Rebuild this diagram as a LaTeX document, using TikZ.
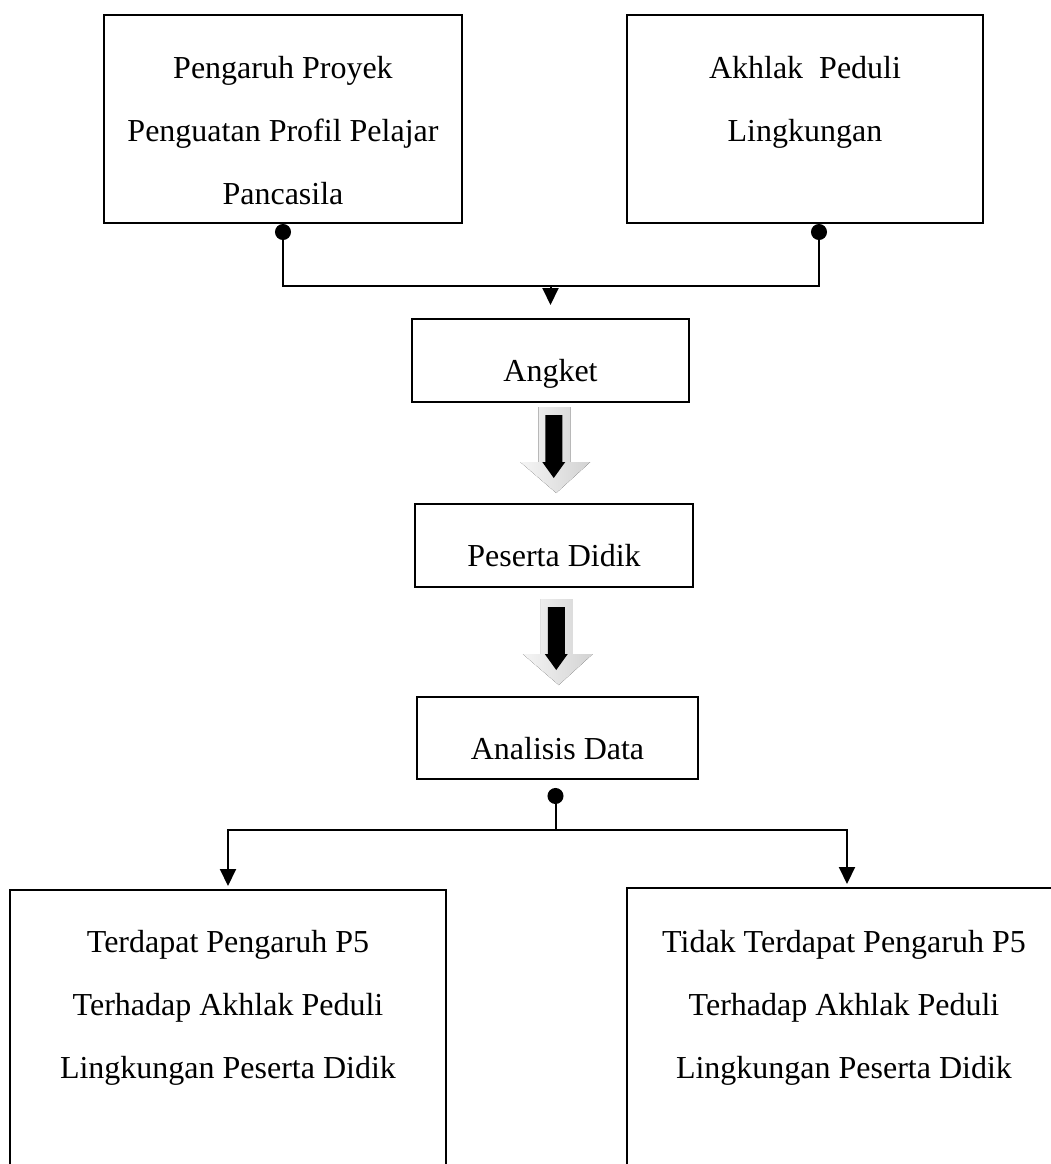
\documentclass[tikz,border=0pt]{standalone}
\usepackage{fontspec}
\setmainfont{Liberation Serif}
\usetikzlibrary{arrows.meta, calc}

\begin{document}
\begin{tikzpicture}[x=1pt, y=1pt,
    kotak/.style={draw, line width=2pt, inner sep=0pt},
    teks/.style={align=center, anchor=north, inner sep=0pt, font=\fontsize{32}{63}\selectfont},
    garis/.style={line width=2pt},
    bulat/.style={garis, {Circle[length=16pt]}-},
    panah/.style={garis, -{Triangle[length=17pt, width=16pt]}},
    blokpanah/.pic={
      \fill[left color=gray!8, right color=gray!35] (-17,43) -- (15,43) -- (15,-12) -- (35,-12)
        -- (1,-43) -- (-35,-12) -- (-17,-12) -- cycle;
      \fill[black] (-10,35) -- (7,35) -- (7,-12) -- (10,-12) -- (-1.5,-28) -- (-13,-12)
        -- (-10,-12) -- cycle;
    }]
  \useasboundingbox (0,0) rectangle (1051,-1164);
  \clip (0,0) rectangle (1051,-1164);
  % kotak atas
  \node[kotak, minimum width=358pt, minimum height=208pt] (pengaruh) at (283,-119) {};
  \node[kotak, minimum width=356pt, minimum height=208pt] (akhlak) at (805,-119) {};
  \node[teks] (tpengaruh) at ([yshift=-42pt]pengaruh.north) {Pengaruh Proyek\\Penguatan Profil Pelajar\\Pancasila};
  \node[teks] (takhlak) at ([yshift=-42pt]akhlak.north) {Akhlak\ \ Peduli\\Lingkungan};
  % alur tengah
  \node[kotak, minimum width=277pt, minimum height=83pt] (angket) at (550.5,-360.5) {};
  \node[kotak, minimum width=278pt, minimum height=83pt] (peserta) at (554,-545.5) {};
  \node[kotak, minimum width=281pt, minimum height=82pt] (analisis) at (557.5,-738) {};
  \node[teks] (tangket) at ([yshift=-41pt]angket.north) {Angket};
  \node[teks] (tpeserta) at ([yshift=-41pt]peserta.north) {Peserta Didik};
  \node[teks] (tanalisis) at ([yshift=-41pt]analisis.north) {Analisis Data};
  % kotak bawah
  \node[kotak, minimum width=436pt, minimum height=400pt] (terdapat) at (228,-1090) {};
  \node[kotak, minimum width=440pt, minimum height=400pt] (tidak) at (847,-1088) {};
  \node[teks] (tterdapat) at ([yshift=-41pt]terdapat.north) {Terdapat Pengaruh P5\\Terhadap Akhlak Peduli\\Lingkungan Peserta Didik};
  \node[teks] (ttidak) at ([shift={(-3pt,-43pt)}]tidak.north) {Tidak Terdapat Pengaruh P5\\Terhadap Akhlak Peduli\\Lingkungan Peserta Didik};

  \coordinate (gabung) at ($(angket.north)+(0,32)$);
  \draw[garis, {Circle[length=16pt]}-{Circle[length=16pt]}] (pengaruh.south) |- (gabung) -| ([xshift=14pt]akhlak.south);
  \draw[panah, shorten >=13pt] (gabung) -- (angket.north);

  \pic at ($(angket.south)!.5!(peserta.north)+(3,3)$) {blokpanah};
  \pic at ($(peserta.south)!.5!(analisis.north)+(2,0)$) {blokpanah};

  \coordinate (cabang) at ($(analisis.south)+(-2,-50)$);
  \draw[bulat] ([shift={(-2pt,-8pt)}]analisis.south) -- (cabang);
  \draw[panah, shorten >=3pt] (cabang) -| (terdapat.north);
  \draw[panah, shorten >=3pt] (cabang) -| (tidak.north);
\end{tikzpicture}
\end{document}
